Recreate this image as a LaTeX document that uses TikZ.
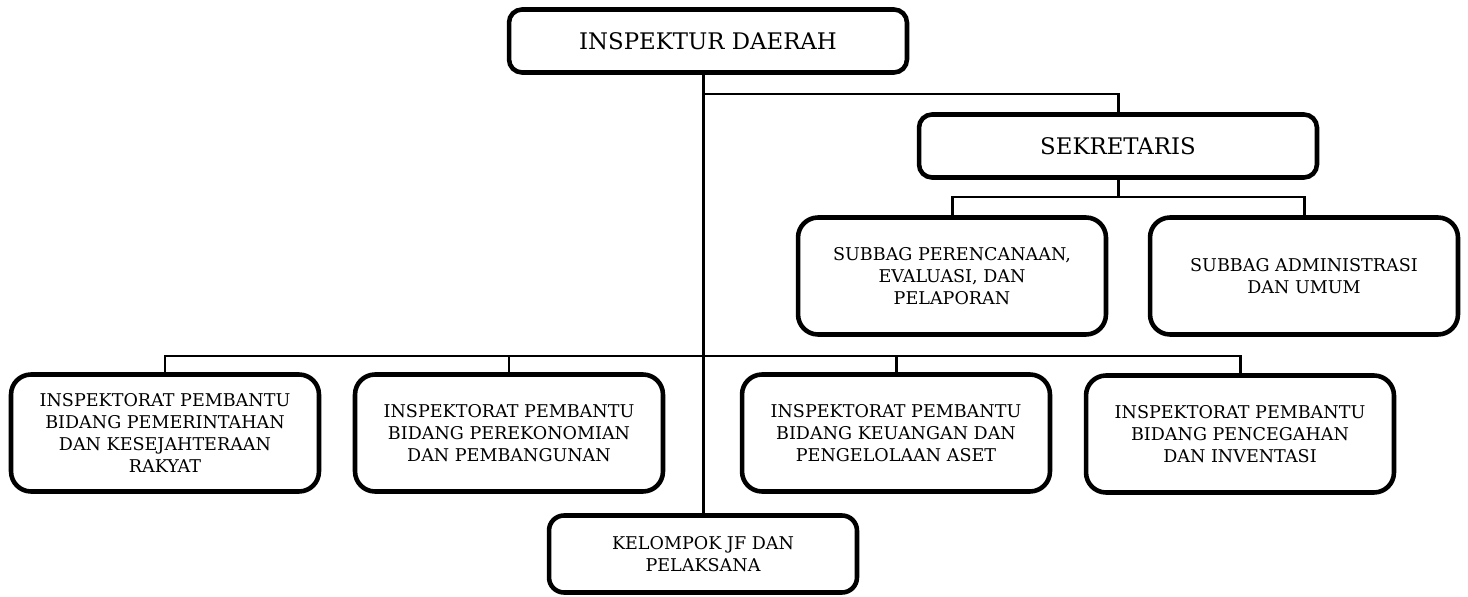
\documentclass[tikz,border=0pt]{standalone}
\usepackage{fontspec}
\setmainfont{DejaVu Serif}
\usepackage{tikz}

\tikzset{
  unit/.style={draw, line width=2.6pt, rounded corners=0.4cm, align=center,
    inner sep=0pt, minimum width=6.16cm, minimum height=2.34cm,
    font=\fontsize{10}{12.5}\selectfont},
  head/.style={unit, rounded corners=0.26cm, minimum width=7.96cm,
    minimum height=1.26cm, font=\fontsize{13}{15}\selectfont},
  link/.style={line width=1.7pt}
}

\begin{document}
\begin{tikzpicture}[x=0.02cm,y=-0.02cm]
                \useasboundingbox (0,0) rectangle (1468,597);
                \node (boss) at (708,41) [head] {INSPEKTUR DAERAH};
                \node (sek) at (1118,146) [head] {SEKRETARIS};
                \node (sub1) at (952,276) [unit] {SUBBAG PERENCANAAN,\\EVALUASI, DAN\\PELAPORAN};
                \node (sub2) at (1304,276) [unit] {SUBBAG ADMINISTRASI\\DAN UMUM};
                \node (ip1) at (165,433) [unit] {INSPEKTORAT PEMBANTU\\BIDANG PEMERINTAHAN\\DAN KESEJAHTERAAN\\RAKYAT};
                \node (ip2) at (509,433) [unit] {INSPEKTORAT PEMBANTU\\BIDANG PEREKONOMIAN\\DAN PEMBANGUNAN};
                \node (ip3) at (896,433) [unit] {INSPEKTORAT PEMBANTU\\BIDANG KEUANGAN DAN\\PENGELOLAAN ASET};
                \node (ip4) at (1240,434) [unit] {INSPEKTORAT PEMBANTU\\BIDANG PENCEGAHAN\\DAN INVENTASI};
                \node (kjf) at (703,554) [unit, minimum height=1.54cm, rounded corners=0.3cm] {KELOMPOK JF DAN\\PELAKSANA};
                \coordinate (bossbus) at (0,94);
                \coordinate (sekbus) at (0,197);
                \coordinate (ipbus) at (0,356);
                \draw[link] (boss.south -| kjf.north) -- (kjf.north);
                \draw[link] (bossbus -| kjf.north) -| (sek.north);
                \draw[link] (sek.south) -- (sekbus -| sek.south);
                \draw[link] (sub1.north) |- (sekbus -| sub2.north) -- (sub2.north);
                \draw[link] (ip1.north) |- (ipbus -| ip4.north) -- (ip4.north);
                \draw[link] (ip2.north) -- (ipbus -| ip2.north);
                \draw[link] (ip3.north) -- (ipbus -| ip3.north);
              \end{tikzpicture}
\end{document}
